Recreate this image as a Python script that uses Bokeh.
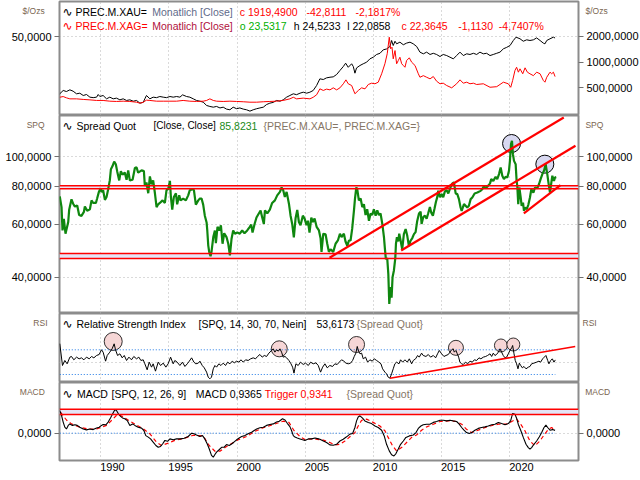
from bokeh.plotting import figure
from bokeh.models import (Range1d, LinearAxis, LogAxis, LinearScale, FixedTicker,
                          CustomJSTickFormatter, Span, BoxAnnotation, Label)
from bokeh.layouts import column
from bokeh.embed import file_html
from bokeh.resources import INLINE

# ---------------- data ----------------
YEAR_TICKS = [1990, 1995, 2000, 2005, 2010, 2015, 2020]

GOLD_YEARS = [1986.99,1987.24,1987.48,1987.73,1987.97,1988.22,1988.46,1988.71,1988.95,1989.20,
    1989.44,1989.69,1989.81,1989.93,1990.17,1990.42,1990.66,1990.91,1991.15,1991.40,
    1991.64,1991.89,1992.13,1992.38,1992.62,1992.87,1993.11,1993.23,1993.35,1993.60,
    1993.84,1994.09,1994.33,1994.58,1994.82,1995.07,1995.31,1995.56,1995.80,1996.00,
    1996.29,1996.53,1996.78,1997.02,1997.27,1997.51,1997.76,1998.00,1998.25,1998.49,
    1998.74,1998.98,1999.22,1999.47,1999.71,1999.96,2000.20,2000.45,2000.69,2000.94,
    2001.18,2001.43,2001.67,2001.92,2002.16,2002.40,2002.65,2002.89,2003.14,2003.38,
    2003.63,2003.87,2004.12,2004.36,2004.61,2004.85,2005.10,2005.34,2005.58,2005.83,
    2006.07,2006.32,2006.56,2006.81,2007.05,2007.30,2007.54,2007.79,2007.96,2008.15,
    2008.40,2008.52,2008.64,2008.76,2009.01,2009.25,2009.50,2009.74,2009.99,2010.23,
    2010.48,2010.72,2010.97,2011.21,2011.33,2011.45,2011.58,2011.70,2011.94,2012.19,
    2012.43,2012.68,2012.92,2013.17,2013.41,2013.66,2013.90,2014.15,2014.39,2014.63,
    2014.88,2015.12,2015.37,2015.61,2015.86,2016.10,2016.35,2016.59,2016.84,2017.08,
    2017.33,2017.57,2017.81,2018.06,2018.30,2018.55,2018.79,2019.04,2019.28,2019.53,
    2019.77,2020.02,2020.26,2020.46,2020.75,2020.99,2021.24,2021.48,2021.73,2021.97,
    2022.22,2022.46,2022.58,2022.71,2022.95,2023.20,2023.32]
GOLD = [425,465,452,473,456,425,432,406,417,388,
    383,388,417,395,406,371,388,371,378,361,
    371,355,361,348,355,330,337,371,406,371,
    388,383,395,388,383,395,388,395,388,413,
    395,388,371,355,348,339,310,302,296,302,
    290,296,281,276,296,284,290,281,276,266,
    276,284,290,296,318,330,337,355,348,361,
    388,406,425,415,432,444,432,444,465,532,
    637,625,654,665,672,716,798,889,972,870,
    957,889,742,855,913,957,999,1093,1144,1230,
    1270,1395,1430,1526,1795,1568,1760,1640,1716,1600,
    1672,1716,1640,1526,1310,1252,1310,1230,1270,1230,
    1164,1230,1195,1144,1093,1195,1310,1195,1252,1230,
    1270,1230,1310,1252,1270,1195,1230,1270,1310,1434,
    1490,1568,1795,1964,1880,1760,1828,1795,1828,1925,
    1795,1672,1640,1795,1880,1964,1919.49]

SILVER_YEARS = [1986.99,1987.24,1987.48,1987.73,1988.22,1988.71,1989.20,1989.69,1990.17,1990.66,
    1991.15,1991.64,1992.13,1992.62,1992.87,1993.11,1993.35,1993.60,1994.09,1994.58,
    1995.07,1995.56,1996.04,1996.53,1997.02,1997.51,1997.76,1998.00,1998.25,1998.49,
    1998.98,1999.47,1999.96,2000.45,2000.94,2001.43,2001.92,2002.40,2002.89,2003.38,
    2003.87,2004.12,2004.36,2004.85,2005.34,2005.58,2005.83,2006.07,2006.32,2006.56,
    2006.81,2007.05,2007.30,2007.54,2007.79,2007.98,2008.15,2008.40,2008.64,2008.89,
    2009.13,2009.38,2009.62,2009.86,2010.11,2010.35,2010.60,2010.84,2011.01,2011.16,
    2011.26,2011.36,2011.45,2011.58,2011.70,2011.82,2011.94,2012.07,2012.19,2012.31,
    2012.43,2012.63,2012.80,2013.05,2013.29,2013.41,2013.66,2013.90,2014.15,2014.39,
    2014.63,2014.88,2015.12,2015.37,2015.74,2016.10,2016.35,2016.59,2016.84,2017.08,
    2017.33,2017.57,2018.06,2018.55,2019.04,2019.53,2019.89,2020.07,2020.21,2020.38,
    2020.50,2020.63,2020.75,2020.95,2021.12,2021.29,2021.48,2021.73,2021.97,2022.22,
    2022.46,2022.58,2022.71,2022.95,2023.07,2023.20,2023.32]
SILVER = [8.1,8.6,7.7,7.0,7.0,6.6,6.3,5.9,5.9,5.4,
    5.2,5.4,5.2,4.7,4.0,4.7,6.1,5.9,5.4,5.4,
    5.4,5.4,5.9,5.4,5.2,5.4,5.9,7.0,5.9,5.4,
    5.2,5.4,5.2,5.0,4.7,4.7,5.0,5.2,5.4,5.9,
    7.0,8.1,7.0,7.5,7.0,8.1,9.8,13.9,12.8,13.7,
    13.2,14.6,13.2,14.6,17.4,20.1,17.4,16.2,10.5,12.8,
    14.6,13.9,16.9,17.8,17.4,18.5,24.3,31.2,38.1,49.5,
    41.5,42.6,34.6,40.3,31.2,33.4,35.7,31.2,30.0,28.8,
    33.4,35.3,32.3,30.0,24.3,21.9,23.0,21.9,20.8,22.4,
    19.2,17.4,17.8,16.2,14.6,17.4,20.1,17.8,18.5,17.4,
    17.8,16.9,17.4,15.0,15.4,18.5,17.4,15.0,19.7,26.6,
    28.8,25.4,27.7,24.3,28.4,25.4,24.3,23.0,25.4,24.3,
    19.7,18.5,21.9,25.4,24.3,25.4,22.36]

RATIO_YEARS = [1986.99,1987.12,1987.19,1987.29,1987.41,1987.61,1987.68,1987.85,1987.97,1988.10,
    1988.27,1988.41,1988.58,1988.76,1988.83,1989.00,1989.20,1989.32,1989.44,1989.64,
    1989.73,1989.86,1989.98,1990.05,1990.17,1990.30,1990.42,1990.54,1990.66,1990.74,
    1990.86,1990.98,1991.10,1991.20,1991.35,1991.47,1991.59,1991.76,1991.89,1992.01,
    1992.13,1992.33,1992.50,1992.62,1992.74,1992.99,1993.16,1993.23,1993.35,1993.48,
    1993.60,1993.72,1993.84,1993.97,1994.09,1994.21,1994.33,1994.53,1994.70,1994.82,
    1994.94,1995.07,1995.14,1995.24,1995.36,1995.51,1995.60,1995.75,1995.85,1996.04,
    1996.24,1996.41,1996.53,1996.73,1996.83,1996.97,1997.15,1997.27,1997.39,1997.51,
    1997.63,1997.76,1997.81,1997.88,1997.95,1998.05,1998.12,1998.25,1998.37,1998.44,
    1998.56,1998.69,1998.81,1998.93,1999.05,1999.22,1999.35,1999.47,1999.59,1999.71,
    1999.84,
    2000.01,2000.20,2000.37,2000.54,2000.74,2000.93,2001.03,2001.13,2001.28,2001.42,
    2001.59,2001.72,2001.84,2001.96,2002.04,2002.21,2002.40,2002.57,2002.77,2002.94,
    2003.14,2003.26,2003.38,2003.50,2003.63,2003.80,2003.92,2004.04,2004.16,2004.29,
    2004.41,2004.53,2004.65,2004.82,2004.95,2005.09,2005.19,2005.31,2005.44,2005.56,
    2005.68,2005.83,2006.00,2006.12,2006.19,2006.32,2006.49,2006.61,2006.73,2006.85,
    2007.05,2007.22,2007.39,2007.54,2007.66,2007.83,2007.95,2008.08,2008.20,2008.32,
    2008.44,2008.57,2008.64,2008.74,2008.81,2008.93,2009.06,2009.18,2009.30,2009.42,
    2009.54,2009.67,2009.79,2009.91,2010.03,2010.16,2010.28,2010.40,2010.52,2010.65,
    2010.77,2010.84,2010.91,2011.01,2011.09,2011.16,2011.26,2011.33,2011.40,2011.50,
    2011.60,2011.65,2011.72,2011.82,2011.89,2011.99,
    2012.11,2012.23,2012.36,2012.48,2012.60,2012.72,2012.85,2012.97,2013.09,2013.21,
    2013.34,2013.46,2013.53,2013.65,2013.78,2013.90,2014.00,2014.14,2014.24,2014.36,
    2014.48,2014.58,2014.68,2014.75,2014.88,2015.00,2015.12,2015.24,2015.37,2015.49,
    2015.66,2015.78,2015.90,2016.03,2016.15,2016.27,2016.39,2016.47,2016.64,2016.88,
    2017.00,2017.13,2017.25,2017.42,2017.62,2017.86,2017.98,2018.11,2018.23,2018.40,
    2018.55,2018.64,2018.79,2018.96,2019.08,2019.21,2019.33,2019.45,2019.57,2019.69,
    2019.82,2019.94,2020.01,2020.09,2020.16,2020.23,2020.31,2020.43,2020.50,2020.55,
    2020.62,2020.70,2020.80,2020.87,2020.97,2021.04,2021.11,2021.24,2021.36,2021.48,
    2021.58,2021.73,2021.85,2022.02,2022.14,2022.26,2022.39,2022.51,2022.63,2022.75,
    2022.87,2022.95,2023.05,2023.12,2023.24,2023.32,2023.41]
RATIO = [74.1,68.3,57.2,62.5,55.8,61.0,67.0,72.5,70.1,68.6,
    69.2,64.3,63.9,65.9,68.6,66.5,67.2,71.9,70.5,70.5,
    72.9,76.7,78.9,76.7,77.7,72.2,73.8,78.3,83.7,91.1,
    93.3,96.6,94.6,89.8,83.7,89.8,87.5,88.8,84.1,90.3,
    83.7,84.1,92.0,92.5,88.8,90.3,89.8,80.3,82.4,75.9,
    86.3,81.3,83.7,75.9,68.3,69.8,70.5,71.9,70.5,77.7,
    78.3,83.4,73.8,67.0,73.8,75.9,69.8,74.7,71.9,72.9,
    71.9,74.7,77.7,78.3,77.7,69.6,71.9,72.9,72.9,69.6,
    64.0,60.8,57.2,51.1,48.6,47.0,48.6,54.4,57.2,51.9,
    58.8,57.2,59.5,51.7,56.0,54.4,51.7,47.3,53.7,57.2,
    55.8,
    56.3,55.8,57.2,56.0,57.2,58.8,59.8,56.3,60.1,63.1,
    65.1,66.6,63.1,60.1,66.6,65.1,67.0,70.5,71.9,74.7,
    76.7,79.3,77.7,73.8,76.7,70.1,64.0,60.1,54.3,62.9,
    66.9,61.0,59.5,64.0,62.6,59.5,61.6,56.3,63.1,61.0,
    62.6,58.8,57.2,53.9,48.6,55.8,55.5,51.7,48.6,49.6,
    48.6,51.7,53.0,55.8,54.4,55.8,52.6,50.9,53.0,53.0,
    58.0,66.6,72.5,79.3,78.3,71.9,72.9,68.3,69.8,64.3,
    67.2,61.6,65.1,64.3,67.2,64.0,66.6,64.3,65.1,60.1,
    54.4,49.7,46.0,46.3,41.1,32.7,37.2,34.3,40.1,42.2,
    46.3,51.7,54.4,52.6,55.8,53.0,
    49.6,55.6,57.8,54.9,50.8,52.9,54.0,55.6,56.5,61.5,
    65.1,66.0,60.1,63.3,64.0,62.6,64.8,68.3,65.5,64.0,
    67.6,71.0,73.7,77.4,73.7,75.4,73.7,77.0,77.7,75.8,
    79.6,81.7,82.5,75.8,75.4,72.6,68.1,66.4,69.9,68.1,
    69.0,72.6,73.5,75.8,76.3,77.3,78.3,80.3,78.9,80.3,
    81.8,84.5,83.4,86.0,84.5,87.8,92.3,86.7,84.5,86.0,
    85.6,90.0,97.1,110.3,113.1,102.2,97.1,94.7,83.4,80.3,
    69.9,79.3,73.5,69.0,70.7,66.4,68.1,67.3,69.5,73.5,
    78.3,76.3,79.3,78.9,81.3,84.5,87.8,90.0,94.7,87.8,
    80.3,76.3,82.4,86.7,83.4,85.6,85.8231]

RSI_YEARS = [1986.99,1987.19,1987.36,1987.53,1987.73,1987.85,1988.02,1988.22,1988.41,1988.58,
    1988.76,1988.95,1989.15,1989.32,1989.49,1989.69,1989.88,1990.05,1990.17,1990.35,
    1990.47,1990.66,1990.83,1990.98,1991.08,1991.23,1991.40,1991.57,1991.72,1991.89,
    1992.06,1992.25,1992.42,1992.62,1992.79,1992.94,1993.11,1993.23,1993.40,1993.55,
    1993.72,1993.84,1994.01,1994.21,1994.38,1994.58,1994.77,1994.94,1995.12,1995.31,
    1995.43,1995.60,1995.80,1995.99,1996.17,1996.34,1996.49,1996.66,1996.83,1996.97,
    1997.15,1997.27,1997.44,1997.59,1997.76,1997.88,1998.00,1998.12,1998.25,1998.37,
    1998.49,1998.66,1998.81,1998.98,1999.15,1999.30,1999.47,1999.64,1999.79,1999.96,
    2000.13,2000.28,2000.45,2000.62,2000.81,2000.99,2001.18,2001.35,2001.50,2001.67,
    2001.84,2001.99,2002.16,2002.33,2002.53,2002.65,2002.77,2002.89,2003.02,2003.14,
    2003.26,2003.38,2003.51,2003.63,2003.80,2003.95,2004.07,2004.17,2004.31,2004.48,
    2004.65,2004.85,2005.02,2005.22,2005.39,2005.58,2005.78,
    2005.95,2006.12,2006.27,2006.44,2006.61,2006.80,2007.00,2007.17,2007.34,2007.49,
    2007.66,2007.83,2007.98,2008.15,2008.32,2008.47,2008.59,2008.71,2008.81,2008.91,
    2009.01,2009.13,2009.25,2009.42,2009.57,2009.74,2009.91,2010.06,2010.23,2010.40,
    2010.55,2010.67,2010.84,2010.96,2011.08,2011.21,2011.33,2011.45,2011.57,2011.70,
    2011.87,2011.99,2012.14,2012.31,2012.48,2012.63,2012.80,2012.92,2013.09,2013.24,
    2013.36,2013.53,2013.65,2013.85,2014.02,2014.19,2014.39,2014.56,2014.70,2014.83,
    2015.00,2015.17,2015.32,2015.49,2015.61,2015.73,2015.85,2015.93,2016.05,2016.15,
    2016.25,2016.34,2016.47,2016.59,2016.76,2016.91,2017.08,2017.25,2017.40,2017.57,
    2017.74,2017.88,2018.06,2018.23,2018.37,2018.55,2018.67,2018.79,2018.91,2019.03,
    2019.16,2019.28,2019.40,2019.52,2019.65,2019.77,2019.89,2020.01,2020.14,2020.21,
    2020.31,2020.40,2020.50,2020.60,2020.70,2020.80,2020.92,2021.04,2021.19,2021.36,
    2021.48,2021.60,2021.77,2021.97,2022.14,2022.26,2022.41,2022.53,2022.65,2022.78,
    2022.87,2023.00,2023.12,2023.24,2023.34]
RSI = [80.0,44.6,52.7,47.3,58.1,59.2,53.8,58.1,55.4,57.0,
    53.8,58.1,55.4,59.2,57.0,60.8,62.4,70.0,66.2,51.6,
    60.8,66.2,71.6,79.7,70.0,60.8,63.5,57.0,60.8,52.7,
    58.1,53.8,59.2,55.4,58.1,52.7,53.8,47.3,37.6,50.0,
    41.9,47.3,35.4,50.0,44.6,48.4,41.9,47.3,58.1,47.3,
    52.7,50.0,44.6,50.0,43.0,47.3,51.6,57.0,50.0,47.3,
    48.4,51.6,44.6,40.8,33.8,25.7,23.0,25.7,39.2,44.6,
    41.9,47.3,44.6,48.4,44.6,50.0,47.3,51.6,48.9,51.6,
    50.0,53.8,50.0,53.8,52.7,55.4,57.0,55.4,59.2,62.4,
    58.1,60.8,59.2,64.6,68.9,71.6,66.2,70.0,67.8,71.6,
    66.2,58.1,59.2,57.0,52.7,47.3,41.9,32.2,47.3,44.6,
    50.0,46.2,48.4,44.6,50.0,47.3,48.9,
    44.6,33.8,41.9,47.3,40.8,44.6,43.0,47.3,46.2,50.0,
    53.8,51.6,48.4,47.3,48.4,52.7,59.2,64.6,75.4,67.8,
    63.5,64.6,55.4,58.1,50.0,53.8,51.6,55.4,52.7,50.0,
    47.3,39.2,33.8,31.1,25.7,24.1,31.1,39.2,47.3,50.0,
    47.3,53.8,50.0,53.8,50.0,55.4,47.3,52.7,55.4,60.8,
    58.1,64.6,60.8,59.2,62.4,58.1,60.8,57.0,63.5,68.9,
    63.5,59.2,60.8,62.4,66.2,70.0,71.6,66.2,68.9,63.5,
    58.1,50.0,47.3,46.2,50.0,47.3,51.6,50.0,53.8,52.7,
    57.0,55.4,58.1,59.2,60.8,63.5,59.2,64.6,60.8,62.4,
    66.2,71.6,66.2,60.8,57.0,58.1,63.5,68.9,73.2,77.0,
    63.5,52.7,47.3,39.2,48.4,44.6,40.8,43.0,39.2,41.9,
    43.0,47.3,48.4,50.0,51.6,50.0,55.4,58.1,60.8,52.7,
    47.3,52.7,55.4,50.0,53.6173]

MACD_YEARS = [1986.99,1987.12,1987.24,1987.36,1987.48,1987.61,1987.73,1987.92,1988.10,1988.27,
    1988.46,1988.71,1988.95,1989.20,1989.44,1989.69,1989.88,1990.05,1990.17,1990.37,
    1990.54,1990.71,1990.86,1991.03,1991.15,1991.30,1991.45,1991.59,1991.76,1991.94,
    1992.13,1992.33,1992.50,1992.74,1992.99,1993.16,1993.30,1993.48,1993.65,1993.84,
    1994.04,1994.21,1994.38,1994.53,1994.70,1994.90,1995.07,1995.31,1995.56,1995.85,
    1996.12,1996.41,1996.66,1996.83,1997.02,1997.27,1997.46,1997.63,1997.81,1997.95,
    1998.12,1998.25,1998.37,1998.49,1998.66,1998.86,1999.03,1999.22,1999.42,1999.59,
    1999.76,1999.96,2000.15,2000.33,2000.57,2000.81,2001.06,2001.25,2001.43,2001.67,
    2001.92,2002.16,2002.40,2002.65,2002.89,2003.09,2003.33,2003.51,2003.68,2003.87,
    2003.99,2004.12,2004.24,2004.41,2004.61,2004.80,2004.97,2005.22,2005.46,2005.71,
    2005.98,
    2006.07,2006.32,2006.56,2006.80,2007.05,2007.29,2007.54,2007.78,2008.03,2008.27,
    2008.47,2008.64,2008.76,2008.88,2009.01,2009.20,2009.37,2009.62,2009.86,2010.11,
    2010.35,2010.60,2010.79,2010.96,2011.16,2011.33,2011.50,2011.65,2011.82,2011.99,
    2012.19,2012.38,2012.63,2012.92,2013.12,2013.29,2013.48,2013.65,2013.90,2014.14,
    2014.39,2014.63,2014.88,2015.12,2015.37,2015.61,2015.85,2016.10,2016.29,2016.47,
    2016.64,2016.83,2017.03,2017.20,2017.44,2017.69,2017.93,2018.18,2018.42,2018.67,
    2018.91,2019.16,2019.40,2019.65,2019.89,2020.06,2020.21,2020.38,2020.50,2020.62,
    2020.80,2020.99,2021.19,2021.36,2021.48,2021.60,2021.77,2021.97,2022.17,2022.34,
    2022.51,2022.65,2022.78,2022.95,2023.14,2023.32]
MACD = [7.6,5.9,3.7,2.0,1.4,2.6,3.1,2.6,2.8,2.6,
    2.0,1.4,1.1,1.4,1.2,1.7,2.0,2.6,2.9,2.8,
    3.7,5.1,6.4,7.8,7.6,6.4,5.6,5.1,4.8,4.2,
    2.6,3.1,2.6,2.0,1.7,0.9,-0.8,-1.3,-1.9,-3.0,
    -4.1,-4.7,-4.4,-3.6,-2.4,-2.7,-1.9,-2.2,-1.9,-1.9,
    -1.7,-1.1,0.0,-0.2,-0.6,-1.1,-0.8,-1.9,-3.6,-5.2,
    -7.4,-8.0,-7.1,-6.3,-5.6,-4.7,-4.7,-3.8,-4.1,-3.6,
    -3.0,-2.2,-1.6,-1.1,-0.8,-0.2,0.3,0.9,1.4,1.8,
    2.0,2.6,2.9,3.1,3.7,4.0,4.8,4.4,3.3,2.2,
    0.9,-0.8,-1.3,-1.6,-1.9,-2.2,-2.4,-1.9,-1.9,-1.6,
    -1.9,
    -2.0,-2.6,-3.1,-3.9,-4.0,-3.7,-2.6,-2.0,-1.2,-0.3,
    -0.1,1.9,4.1,5.4,5.8,5.0,4.1,3.6,3.2,2.4,
    1.9,1.0,-0.9,-3.7,-5.9,-7.2,-7.6,-6.8,-5.3,-3.7,
    -2.6,-1.4,-0.9,-0.6,0.2,1.6,2.4,2.8,3.0,3.0,
    3.6,3.9,4.3,4.3,4.1,4.3,4.1,3.9,3.0,1.9,
    1.0,0.2,-0.1,0.2,1.0,1.6,1.9,2.1,2.4,2.8,
    3.0,3.6,3.2,2.8,3.2,4.1,6.6,6.3,5.0,3.0,
    1.0,-1.4,-3.7,-4.8,-5.3,-4.8,-3.7,-2.6,-1.2,0.2,
    1.9,2.7,1.9,1.0,1.2,0.9365]

TRIGGER_YEARS = [1987.04,1987.48,1987.85,1988.46,1989.07,1989.69,1990.42,1990.91,1991.20,1991.59,
    1992.13,1992.62,1993.16,1993.60,1994.09,1994.45,1994.94,1995.43,1996.04,1996.78,
    1997.51,1997.95,1998.37,1998.74,1999.22,2000.08,2000.69,2001.30,2001.92,2002.65,
    2003.38,2003.80,2004.17,2004.61,2004.97,2005.58,
    2006.32,2006.80,2007.17,2007.54,2007.91,2008.27,2008.64,2008.88,2009.13,2009.50,
    2009.98,2010.47,2010.84,2011.08,2011.40,2011.70,2012.06,2012.43,2012.80,2013.16,
    2013.53,2013.90,2014.39,2014.88,2015.49,2016.10,2016.47,2016.83,2017.20,2017.57,
    2018.06,2018.55,2019.16,2019.77,2020.14,2020.50,2020.80,2021.11,2021.48,2021.85,
    2022.21,2022.51,2022.83,2023.07,2023.32]
TRIGGER = [7.0,4.4,3.1,2.0,1.4,1.4,2.6,4.8,6.2,5.6,
    4.0,2.7,1.3,-0.2,-3.0,-4.1,-3.3,-2.4,-1.8,-0.7,
    -0.9,-4.1,-6.0,-6.0,-4.4,-2.2,-1.1,0.6,1.8,2.9,
    4.0,3.6,0.9,-1.1,-2.1,-1.9,
    -2.3,-3.1,-3.9,-3.7,-2.6,-1.2,0.2,2.4,4.3,4.7,
    3.6,2.4,0.8,-1.4,-4.2,-5.9,-4.8,-3.1,-1.4,-0.6,
    1.0,2.1,3.0,3.9,4.1,3.9,3.0,1.3,0.2,0.8,
    1.7,2.4,3.0,3.0,3.9,4.7,3.0,0.8,-2.6,-4.2,
    -2.6,-0.6,1.3,1.9,0.9341]

RATIO_BAND_LOW = [78.5, 46.2]
RATIO_BAND_HIGH = [80.3, 48.0]
CHANNEL_X0 = [2006.78, 2012.03, 2021.03]
CHANNEL_Y0 = [46.5, 49.1, 65.1]
CHANNEL_X1 = [2023.96, 2024.82, 2023.72]
CHANNEL_Y1 = [135.1, 108.9, 80.8]
RATIO_MARK_YEARS = [2020.13, 2022.57]
RATIO_MARK_VALUES = [110.8, 94.7]
RSI_LEVELS = [70, 30]
RSI_MARK_YEARS = [1990.91, 2003.09, 2008.76, 2016.05, 2019.35, 2020.26]
RSI_MARK_VALUES = [83.5, 71.6, 78.6, 73.2, 77.0, 78.6]
RSI_TREND_X = [2011.21, 2024.8]
RSI_TREND_Y = [24.1, 75.4]
MACD_BAND_LOW, MACD_BAND_HIGH = 6.2, 8.0

# ---------------- layout helpers ----------------
FONT = "Liberation Sans"
LB, RB = 59, 62
X0, X1 = 1986.97, 2025.04
GRID_C = "#b4b4b4"
FRAME_C = "#8c8c8c"
SIDE_C = "#7a6550"


def make_fig(h, top, bottom, yr, ytype="linear", yloc="right", xloc=None):
    p = figure(width=640, height=h, x_range=Range1d(X0, X1), y_range=yr,
               y_axis_type=ytype, y_axis_location=yloc, x_axis_location=xloc,
               toolbar_location=None, output_backend="svg", title=None,
               min_border_left=LB, min_border_right=RB,
               min_border_top=top, min_border_bottom=bottom)
    p.outline_line_color = FRAME_C
    p.outline_line_width = 2
    p.background_fill_color = "white"
    p.border_fill_color = "white"
    p.xgrid.ticker = FixedTicker(ticks=YEAR_TICKS)
    p.xgrid.grid_line_color = GRID_C
    p.xgrid.grid_line_dash = "1 3"
    p.ygrid.grid_line_color = GRID_C
    p.ygrid.grid_line_dash = "1 3"
    return p


def style_axis(ax, ticks):
    ax.ticker = FixedTicker(ticks=ticks)
    ax.formatter = CustomJSTickFormatter(code="return tick.toFixed(4).replace('.', ',');")
    ax.major_label_text_font = FONT
    ax.major_label_text_font_size = "11px"
    ax.major_label_text_color = "black"
    ax.major_tick_out = 5
    ax.major_tick_in = 0
    ax.minor_tick_out = 0
    ax.minor_tick_in = 0
    ax.major_tick_line_color = "#707070"
    ax.axis_line_color = None
    ax.major_label_standoff = 3


def side_label(ax, text, standoff):
    # small unit label shown just below the top end of the axis
    ax.axis_label = "\n" + text
    ax.axis_label_standoff = int(round(standoff))
    ax.axis_label_orientation = "horizontal"
    try:
        ax.axis_label_align = "end"
    except Exception:
        pass
    ax.axis_label_text_font = FONT
    ax.axis_label_text_font_size = "8.5px"
    ax.axis_label_text_font_style = "normal"
    ax.axis_label_text_color = SIDE_C
    ax.axis_label_text_baseline = "top"
    ax.axis_label_text_line_height = 1.8


def put(p, ftop, fh, cx, cy, text, color, size="10.5px", font=FONT, align="left"):
    p.add_layout(Label(x=cx - LB, y=ftop + fh - cy, x_units="screen", y_units="screen",
                       text=text, text_color=color, text_font=font, text_font_size=size,
                       text_align=align, text_baseline="middle"))


ICON = "\u223f"

# ---------------- panel 1: gold / silver ----------------
F1T, F1H = 1, 114
p1 = make_fig(115, 1, 0, Range1d(236.4, 5150), ytype="log", yloc="right")
p1.extra_y_ranges = {"silver": Range1d(-4.48, 74.14)}
p1.extra_y_scales = {"silver": LinearScale()}
ax_l = LinearAxis(y_range_name="silver")
p1.add_layout(ax_l, "left")
style_axis(ax_l, [50])
style_axis(p1.right[0], [500, 1000, 2000])
side_label(ax_l, "$/Ozs", 3.5 - 39.8)
side_label(p1.right[0], "$/Ozs", -4 - 52.0)
p1.ygrid.ticker = FixedTicker(ticks=[2000])
p1.line(GOLD_YEARS, GOLD, line_color="black", line_width=1)
p1.line(SILVER_YEARS, SILVER, line_color="#ff0000", line_width=1, y_range_name="silver")
put(p1, F1T, F1H, 62, 11, ICON, "black", size="12px", font="DejaVu Sans")
put(p1, F1T, F1H, 75, 11, "PREC.M.XAU=", "black")
put(p1, F1T, F1H, 151.7, 11, "Monatlich [Close]", "#5f6b8a")
put(p1, F1T, F1H, 239.3, 11, "c 1919,4900", "#ff0000")
put(p1, F1T, F1H, 306, 11, "-42,8111", "#ff0000")
put(p1, F1T, F1H, 355, 11, "-2,1817%", "#ff0000")
put(p1, F1T, F1H, 62, 25, ICON, "#ff0000", size="12px", font="DejaVu Sans")
put(p1, F1T, F1H, 75, 25, "PREC.M.XAG=", "#ff0000")
put(p1, F1T, F1H, 151.7, 25, "Monatlich [Close]", "#b0103c")
put(p1, F1T, F1H, 239.3, 25, "o 23,5317", "#00b000")
put(p1, F1T, F1H, 293.3, 25, "h 24,5233", "black")
put(p1, F1T, F1H, 346.7, 25, "l 22,0858", "black")
put(p1, F1T, F1H, 401, 25, "c 22,3645", "#ff0000")
put(p1, F1T, F1H, 457.7, 25, "-1,1130", "#ff0000")
put(p1, F1T, F1H, 498.3, 25, "-4,7407%", "#ff0000")

# ---------------- panel 2: spread quote ----------------
F2T, F2H = 115, 198
p2 = make_fig(198, 0, 0, Range1d(30.42, 137.1), ytype="log", yloc="left")
ax_r2 = LogAxis()
p2.add_layout(ax_r2, "right")
style_axis(p2.left[0], [40, 60, 80, 100])
style_axis(ax_r2, [40, 60, 80, 100])
side_label(p2.left[0], "SPQ", 3.5 - 45.9)
side_label(ax_r2, "SPQ", -4 - 45.9)
p2.ygrid.ticker = FixedTicker(ticks=[40, 60, 80, 100])
for lo, hi in zip(RATIO_BAND_LOW, RATIO_BAND_HIGH):
    p2.add_layout(BoxAnnotation(bottom=lo, top=hi, fill_color="#e4e4f6", fill_alpha=1.0,
                                line_color=None, level="underlay"))
p2.scatter(RATIO_MARK_YEARS, RATIO_MARK_VALUES, marker="circle", size=18,
           fill_color="#d8d8f0", line_color="black", line_width=1)
p2.line(RATIO_YEARS, RATIO, line_color="#0f870f", line_width=2.2)
for lo, hi in zip(RATIO_BAND_LOW, RATIO_BAND_HIGH):
    p2.add_layout(Span(location=lo, dimension="width", line_color="#ff0000", line_width=1.5))
    p2.add_layout(Span(location=hi, dimension="width", line_color="#ff0000", line_width=1.5))
p2.segment(CHANNEL_X0, CHANNEL_Y0, CHANNEL_X1, CHANNEL_Y1, line_color="#ff0000", line_width=2.2)
put(p2, F2T, F2H, 62, 125, ICON, "black", size="12px", font="DejaVu Sans")
put(p2, F2T, F2H, 76, 125, "Spread Quot", "black")
put(p2, F2T, F2H, 153, 125, "[Close, Close]", "black", size="10px")
put(p2, F2T, F2H, 219, 125, "85,8231", "#208a20")
put(p2, F2T, F2H, 263, 125, "{PREC.M.XAU=, PREC.M.XAG=}", "#857565")

# ---------------- panel 3: RSI ----------------
F3T, F3H = 313, 69
p3 = make_fig(69, 0, 0, Range1d(17.04, 128.8), yloc=None)
for side_name, so in (("left", 11.5), ("right", 4)):
    ax3 = LinearAxis(ticker=FixedTicker(ticks=[]))
    ax3.major_tick_out = 0
    ax3.major_tick_in = 0
    ax3.minor_tick_out = 0
    ax3.minor_tick_in = 0
    ax3.axis_line_color = None
    ax3.major_label_text_font_size = "0px"
    ax3.major_label_standoff = 0
    side_label(ax3, "RSI", so)
    p3.add_layout(ax3, side_name)
p3.ygrid.ticker = FixedTicker(ticks=[50])
p3.scatter(RSI_MARK_YEARS, RSI_MARK_VALUES, marker="circle", size=[18, 16, 16, 15, 13, 13],
           fill_color="#f6d6d6", line_color="black", line_width=0.8)
for lvl in RSI_LEVELS:
    p3.line([RSI_YEARS[0], RSI_YEARS[-1]], [lvl, lvl], line_color="#1e78e6",
            line_width=1, line_dash="1 2")
p3.line(RSI_YEARS, RSI, line_color="black", line_width=1)
p3.line(RSI_TREND_X, RSI_TREND_Y, line_color="#ff0000", line_width=1.5)
put(p3, F3T, F3H, 62, 323.5, ICON, "black", size="12px", font="DejaVu Sans")
put(p3, F3T, F3H, 76, 323.5, "Relative Strength Index", "black")
put(p3, F3T, F3H, 198, 323.5, "[SPQ, 14, 30, 70, Nein]", "black")
put(p3, F3T, F3H, 316, 323.5, "53,6173", "black")
put(p3, F3T, F3H, 356, 323.5, "{Spread Quot}", "#857565")

# ---------------- panel 4: MACD ----------------
F4T, F4H = 382, 78
p4 = make_fig(98, 0, 20, Range1d(-9.1, 16.9), yloc="left", xloc="below")
ax_r4 = LinearAxis()
p4.add_layout(ax_r4, "right")
style_axis(p4.left[0], [0])
style_axis(ax_r4, [0])
side_label(p4.left[0], "MACD", 3.5 - 33.7)
side_label(ax_r4, "MACD", -4 - 33.7)
p4.ygrid.ticker = FixedTicker(ticks=[0])
p4.add_layout(BoxAnnotation(bottom=MACD_BAND_LOW, top=MACD_BAND_HIGH, fill_color="#e4e4f6",
                            fill_alpha=1.0, line_color=None, level="underlay"))
p4.add_layout(Span(location=MACD_BAND_LOW, dimension="width", line_color="#ff0000", line_width=1.5))
p4.add_layout(Span(location=MACD_BAND_HIGH, dimension="width", line_color="#ff0000", line_width=1.5))
p4.line([MACD_YEARS[0], MACD_YEARS[-1]], [0, 0], line_color="#1e78e6", line_width=1, line_dash="1 2")
p4.line(TRIGGER_YEARS, TRIGGER, line_color="#ff0000", line_width=1.2, line_dash="4 3")
p4.line(MACD_YEARS, MACD, line_color="black", line_width=1.1)
xa = p4.below[0]
xa.ticker = FixedTicker(ticks=[t + 0.85 for t in YEAR_TICKS])
xa.formatter = CustomJSTickFormatter(code="return String(Math.round(tick - 0.85));")
xa.major_tick_line_color = None
xa.minor_tick_line_color = None
xa.major_tick_out = 0
xa.axis_line_color = None
xa.major_label_standoff = 2
xa.major_label_text_font = FONT
xa.major_label_text_font_size = "11px"
xa.major_label_text_color = "black"
put(p4, F4T, F4H, 62, 393.5, ICON, "black", size="12px", font="DejaVu Sans")
put(p4, F4T, F4H, 76.5, 393.5, "MACD", "black")
put(p4, F4T, F4H, 111, 393.5, "[SPQ, 12, 26, 9]", "black")
put(p4, F4T, F4H, 195.3, 393.5, "MACD 0,9365", "black")
put(p4, F4T, F4H, 264.3, 393.5, "Trigger 0,9341", "#ff0000")
put(p4, F4T, F4H, 346, 393.5, "{Spread Quot}", "#857565")

layout = column(p1, p2, p3, p4, spacing=0)
open("out.html", "w").write(file_html(layout, INLINE))
